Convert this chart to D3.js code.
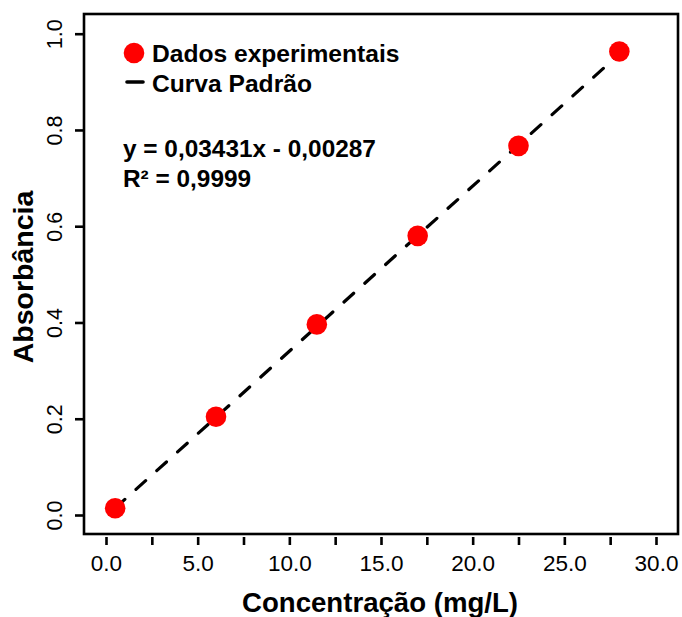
<!DOCTYPE html>
<html>
<head>
<meta charset="utf-8">
<script src="https://cdn.jsdelivr.net/npm/d3@7"></script>
<style>
  body { margin: 0; background: #fff; }
  svg { display: block; font-family: "Liberation Sans", Arial, sans-serif; }
</style>
</head>
<body>
<svg id="chart" width="682" height="617"></svg>
<script>
// concentrations (mg/L) and measured absorbance
const concentrations = [0.5, 6.0, 11.5, 17.0, 22.5, 28.0]
const absorbances = [0.014, 0.204, 0.396, 0.580, 0.767, 0.963]
const xTicks = [0, 2.5, 5, 7.5, 10, 12.5, 15, 17.5, 20, 22.5, 25, 27.5, 30]
const yTicks = [0, 0.2, 0.4, 0.6, 0.8, 1.0]
const slope = 0.03431
const intercept = -0.00287
const legendLabels = ['Dados experimentais', 'Curva Padrão']
const equationLines = ['y = 0,03431x - 0,00287', 'R² = 0,9999']

const svg = d3.select('#chart')

// plot box
const box = { left: 84, right: 678, top: 14, bottom: 534 }

const x = d3.scaleLinear().domain([0, 30]).range([106, 656])
const y = d3.scaleLinear().domain([0, 1]).range([515, 33.7])

svg.append('rect')
  .attr('x', box.left)
  .attr('y', box.top)
  .attr('width', box.right - box.left)
  .attr('height', box.bottom - box.top)
  .attr('fill', 'none')
  .attr('stroke', '#000')
  .attr('stroke-width', 2.6)

// x axis: ticks every 2.5, labels every 5
const xAxis = d3.axisBottom(x)
  .tickValues(xTicks)
  .tickSize(8)
  .tickPadding(10)
  .tickFormat(d => (d % 5 === 0 ? d.toFixed(1) : ''))

const gx = svg.append('g')
  .attr('transform', `translate(0, ${box.bottom + 3})`)
  .call(xAxis)
gx.select('.domain').remove()
gx.selectAll('.tick line').attr('stroke', '#000').attr('stroke-width', 2.6)
gx.selectAll('.tick text')
  .attr('font-size', 22.5)
  .attr('fill', '#000')
  .attr('font-family', '"Liberation Sans", Arial, sans-serif')

// y axis with rotated labels
const yAxis = d3.axisLeft(y)
  .tickValues(yTicks)
  .tickSize(9)
  .tickFormat(d => d.toFixed(1))

const gy = svg.append('g')
  .attr('transform', `translate(${box.left}, 0)`)
  .call(yAxis)
gy.select('.domain').remove()
gy.selectAll('.tick line').attr('stroke', '#000').attr('stroke-width', 2.6)
gy.selectAll('.tick text')
  .attr('x', null)
  .attr('dy', null)
  .attr('text-anchor', 'middle')
  .attr('transform', 'translate(-22, 0) rotate(-90)')
  .attr('font-size', 21.5)
  .attr('fill', '#000')
  .attr('font-family', '"Liberation Sans", Arial, sans-serif')

// axis titles
svg.append('text')
  .attr('x', (box.left + box.right) / 2 - 1)
  .attr('y', 612)
  .attr('text-anchor', 'middle')
  .attr('font-size', 27.6)
  .attr('font-weight', 'bold')
  .text('Concentração (mg/L)')

svg.append('text')
  .attr('transform', `translate(33, ${(box.top + box.bottom) / 2 + 3}) rotate(-90)`)
  .attr('text-anchor', 'middle')
  .attr('font-size', 28.5)
  .attr('font-weight', 'bold')
  .text('Absorbância')

// standard curve
const x0 = d3.min(concentrations)
const x1 = d3.max(concentrations)
svg.append('line')
  .attr('x1', x(x0))
  .attr('y1', y(slope * x0 + intercept))
  .attr('x2', x(x1))
  .attr('y2', y(slope * x1 + intercept))
  .attr('stroke', '#000')
  .attr('stroke-width', 3.2)
  .attr('stroke-linecap', 'round')
  .attr('stroke-dasharray', '13,15')

// experimental points
svg.selectAll('.pt')
  .data(concentrations)
  .enter()
  .append('circle')
  .attr('class', 'pt')
  .attr('cx', d => x(d))
  .attr('cy', (d, i) => y(absorbances[i]))
  .attr('r', 10.3)
  .attr('fill', '#ff0000')

// legend
const legend = svg.append('g')
legend.append('circle')
  .attr('cx', 134)
  .attr('cy', 53)
  .attr('r', 10.3)
  .attr('fill', '#ff0000')
legend.append('line')
  .attr('x1', 127)
  .attr('x2', 143)
  .attr('y1', 82)
  .attr('y2', 82)
  .attr('stroke', '#000')
  .attr('stroke-width', 3.6)
  .attr('stroke-linecap', 'round')
legend.selectAll('.lab')
  .data(legendLabels)
  .enter()
  .append('text')
  .attr('class', 'lab')
  .attr('x', 152)
  .attr('y', (d, i) => 61.5 + i * 30)
  .attr('font-size', 24.6)
  .attr('font-weight', 'bold')
  .text(d => d)

svg.selectAll('.eq')
  .data(equationLines)
  .enter()
  .append('text')
  .attr('class', 'eq')
  .attr('x', 123)
  .attr('y', (d, i) => 156.5 + i * 30)
  .attr('font-size', 24.4)
  .attr('font-weight', 'bold')
  .text(d => d)
</script>
</body>
</html>
